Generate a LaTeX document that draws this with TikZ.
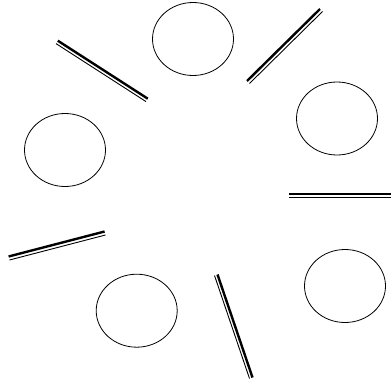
\documentclass[tikz,border=0pt]{standalone}
\usetikzlibrary{shapes.geometric}
\begin{document}
\begin{tikzpicture}[x=1pt,y=-1pt,
  oval/.style={draw=black,ellipse,line width=0.8pt,minimum width=81pt,minimum height=73pt,inner sep=0pt},
  heavy/.style={draw=black,line width=2.4pt},
  light/.style={draw=black,line width=0.9pt}]
\useasboundingbox (0,0) rectangle (391,383);
% ellipses
\node[oval] (e1) at (193,39) {};
\node[oval] (e2) at (337,118.5) {};
\node[oval] (e3) at (65,150) {};
\node[oval] (e4) at (345,286) {};
\node[oval] (e5) at (136.7,310.7) {};
% double strokes: heavy + light
\draw[heavy] (247,81) -- (320,9);
\draw[light] (249.5,83.5) -- (322.5,11.5);
\draw[heavy] (289,194) -- (391,194);
\draw[light] (289,197.3) -- (391,197.3);
\draw[heavy] (8.6,256.5) -- (104.6,231.5);
\draw[light] (9.5,260) -- (105.5,235);
\draw[heavy] (217.5,274.5) -- (252.5,377.5);
\draw[light] (214.5,275.5) -- (249.5,378.5);
\draw[heavy] (57.8,40.7) -- (147.8,98.7);
\draw[light] (56,43.6) -- (146,101.6);
\end{tikzpicture}
\end{document}
